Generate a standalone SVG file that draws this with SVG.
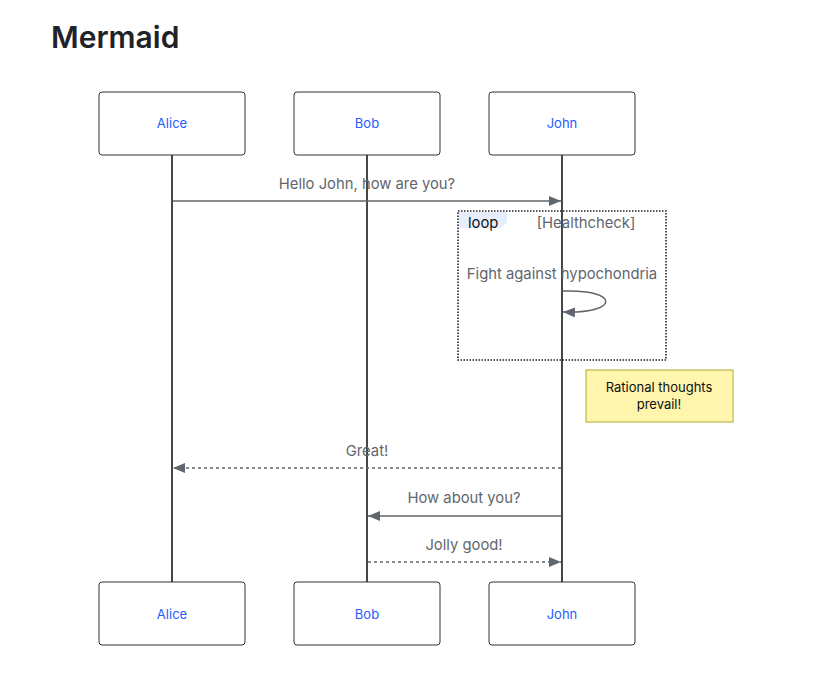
<svg xmlns="http://www.w3.org/2000/svg" width="832" height="679" viewBox="0 0 832 679">
<defs>
<style>
.actor rect{fill:#fff;stroke:#333;stroke-width:1}
.actor text{font-family:Inter,"Liberation Sans",Arial,sans-serif;font-size:13px;fill:#1f5cff;text-anchor:middle}
.life{stroke:#333;stroke-width:1.8}
.msg{stroke:#5f666d;stroke-width:1.5;fill:none}
.dash{stroke-dasharray:3,3}
.mt{font-family:Inter,"Liberation Sans",Arial,sans-serif;font-size:14.8px;fill:#5f666d;text-anchor:middle}
</style>
<marker id="ah" viewBox="0 0 12 10" refX="12" refY="5" markerWidth="12" markerHeight="10" markerUnits="userSpaceOnUse" orient="auto">
<path d="M0,0 L12,5 L0,10 z" fill="#5f666d"/>
</marker>
</defs>
<rect width="832" height="679" fill="#fff"/>
<text x="51" y="48" font-family="Inter,Liberation Sans,Arial,sans-serif" font-size="30" font-weight="600" fill="#1f2328">Mermaid</text>

<g id="lifelines">
<line class="life" x1="172" y1="155" x2="172" y2="582"/>
<line class="life" x1="367" y1="155" x2="367" y2="582"/>
<line class="life" x1="562" y1="155" x2="562" y2="582"/>
</g>

<g id="actor-alice-top" class="actor"><rect x="99" y="92" width="146" height="63" rx="3"/><text x="172" y="128">Alice</text></g>
<g id="actor-bob-top" class="actor"><rect x="294" y="92" width="146" height="63" rx="3"/><text x="367" y="128">Bob</text></g>
<g id="actor-john-top" class="actor"><rect x="489" y="92" width="146" height="63" rx="3"/><text x="562" y="128">John</text></g>
<g id="actor-alice-bottom" class="actor"><rect x="99" y="582" width="146" height="63" rx="3"/><text x="172" y="619">Alice</text></g>
<g id="actor-bob-bottom" class="actor"><rect x="294" y="582" width="146" height="63" rx="3"/><text x="367" y="619">Bob</text></g>
<g id="actor-john-bottom" class="actor"><rect x="489" y="582" width="146" height="63" rx="3"/><text x="562" y="619">John</text></g>

<g id="loop">
<rect x="458" y="211" width="208" height="149" fill="none" stroke="#222" stroke-width="1.6" stroke-dasharray="1.5,1.5"/>
<polygon points="459,212 507,212 507,222 501,228 459,228" fill="#e6eefd"/>
<text x="468" y="228" font-family="Inter,Liberation Sans,Arial,sans-serif" font-size="14.8" fill="#111">loop</text>
<text x="586" y="228" class="mt">[Healthcheck]</text>
</g>

<g id="note">
<rect x="586" y="370" width="147" height="52" fill="#fff5ad" stroke="#aaaa33" stroke-width="1"/>
<text x="659" y="392" font-family="Inter,Liberation Sans,Arial,sans-serif" font-size="13" fill="#111" text-anchor="middle">Rational thoughts</text>
<text x="659" y="409" font-family="Inter,Liberation Sans,Arial,sans-serif" font-size="13" fill="#111" text-anchor="middle">prevail!</text>
</g>

<g id="connectors">
<text x="367" y="189" class="mt">Hello John, how are you?</text>
<line class="msg" x1="173" y1="201" x2="561" y2="201" marker-end="url(#ah)"/>
<text x="562" y="279" class="mt">Fight against hypochondria</text>
<path class="msg" d="M563,291 C620,289 620,314 563,312" marker-end="url(#ah)"/>
<text x="367" y="456" class="mt">Great!</text>
<line class="msg dash" x1="561" y1="468" x2="173" y2="468" marker-end="url(#ah)"/>
<text x="464" y="503" class="mt">How about you?</text>
<line class="msg" x1="561" y1="516" x2="368" y2="516" marker-end="url(#ah)"/>
<text x="464" y="550" class="mt">Jolly good!</text>
<line class="msg dash" x1="368" y1="562" x2="561" y2="562" marker-end="url(#ah)"/>
</g>
</svg>
